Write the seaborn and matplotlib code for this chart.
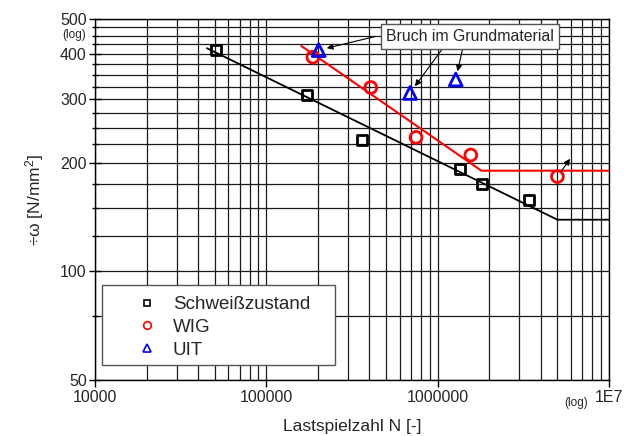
import matplotlib
matplotlib.use('Agg')
import matplotlib.pyplot as plt
import seaborn as sns
from matplotlib.ticker import FixedLocator, FixedFormatter, LogLocator, NullFormatter
from matplotlib.lines import Line2D
from matplotlib.patches import Rectangle

# ---------------- data ----------------
sw_N = [51000, 172000, 363000, 1357000, 1824000, 3417000]
sw_S = [410, 308, 231, 192, 174, 158]
wig_N = [187000, 407000, 748000, 1561000, 5000000]
wig_S = [392, 323, 235, 210, 183]
uit_N = [202000, 690000, 1275000]
uit_S = [410, 312, 340]

line_sw_N = [45000, 5000000, 10000000]
line_sw_S = [415, 139, 139]
line_wig_N = [160000, 1800000, 10000000]
line_wig_S = [421, 190, 190]

x_ticks = [1e4, 1e5, 1e6, 1e7]
x_labels = ['10000', '100000', '1000000', '1E7']
y_ticks = [50, 100, 200, 300, 400, 500]
y_labels = ['50', '100', '200', '300', '400', '500']
y_minor = [75, 125, 150, 175, 225, 250, 275, 325, 350, 375, 425, 450, 475]

labels = ['Schweißzustand', 'WIG', 'UIT']
box_text = 'Bruch im Grundmaterial'
box_pos = (1.546e6, 447)
arrow_tails = [(431000, 447), (1056000, 411), (1394000, 411)]
runout_tip = (5.93e6, 205)

# ---------------- style ----------------
sns.set_theme(style='white')
plt.rcParams['font.family'] = ['Liberation Sans', 'DejaVu Sans']
plt.rcParams['mathtext.fontset'] = 'custom'
plt.rcParams['mathtext.rm'] = 'Liberation Sans'
plt.rcParams['mathtext.it'] = 'Liberation Sans:italic'

fig = plt.figure(figsize=(6.39, 4.36), dpi=100)
ax = fig.add_axes([95 / 639, 1 - 380 / 436, 514 / 639, 361 / 436])
ax.set_xscale('log')
ax.set_yscale('log')

# lines
sns.lineplot(x=line_sw_N, y=line_sw_S, color='black', lw=1.3, sort=False,
             estimator=None, ax=ax, zorder=3)
sns.lineplot(x=line_wig_N, y=line_wig_S, color='red', lw=1.5, sort=False,
             estimator=None, ax=ax, zorder=3)

# points
for N, S, m, c, s in [(sw_N, sw_S, 's', 'black', 52),
                      (wig_N, wig_S, 'o', 'red', 72),
                      (uit_N, uit_S, '^', 'blue', 85)]:
    sns.scatterplot(x=N, y=S, marker=m, s=s, ax=ax, zorder=4)
    coll = ax.collections[-1]
    coll.set_facecolor('none')
    coll.set_edgecolor(c)
    coll.set_linewidth(2)

ax.set_xlim(1e4, 1e7)
ax.set_ylim(50, 500)

# ticks
ax.xaxis.set_major_locator(FixedLocator(x_ticks))
ax.xaxis.set_major_formatter(FixedFormatter(x_labels))
ax.xaxis.set_minor_locator(LogLocator(base=10, subs=range(2, 10)))
ax.xaxis.set_minor_formatter(NullFormatter())
ax.yaxis.set_major_locator(FixedLocator(y_ticks))
ax.yaxis.set_major_formatter(FixedFormatter(y_labels))
ax.yaxis.set_minor_locator(FixedLocator(y_minor))
ax.yaxis.set_minor_formatter(NullFormatter())

ax.tick_params(axis='x', which='major', direction='out', length=5, width=1,
               color='black', labelsize=11.5, pad=2, bottom=True)
ax.tick_params(axis='x', which='minor', length=0)
ax.tick_params(axis='y', which='major', direction='inout', length=8, width=1,
               color='black', labelsize=11.5, pad=2, left=True)
ax.tick_params(axis='y', which='minor', direction='inout', length=5, width=1,
               color='black', left=True)

ax.grid(True, which='both', color='#1a1a1a', lw=0.9)
ax.set_axisbelow(True)
for sp in ax.spines.values():
    sp.set_color('black')
    sp.set_linewidth(1)

ax.set_xlabel('Lastspielzahl N [-]', fontsize=12.5, labelpad=10)
ax.set_ylabel(r'÷ω [N/mm$^2$]', fontsize=12.5, labelpad=10)

ax.text(-0.041, 0.956, '(log)', transform=ax.transAxes, ha='center',
        va='center', fontsize=8.5)
ax.text(0.936, -0.064, '(log)', transform=ax.transAxes, ha='center',
        va='center', fontsize=8.5)

# annotation box + arrows
ax.text(box_pos[0], box_pos[1], box_text, ha='center', va='center',
        fontsize=11.4, zorder=6,
        bbox=dict(boxstyle='square,pad=0.3', fc='white', ec='#555555', lw=1))
for (tN, tS), N, S in zip(arrow_tails, uit_N, uit_S):
    ax.annotate('', xy=(N, S), xytext=(tN, tS),
                arrowprops=dict(arrowstyle='-|>', color='black', lw=0.8,
                                mutation_scale=9, shrinkA=0, shrinkB=6),
                zorder=5)
ax.annotate('', xy=runout_tip, xytext=(wig_N[-1], wig_S[-1]),
            arrowprops=dict(arrowstyle='-|>', color='black', lw=0.8,
                            mutation_scale=9, shrinkA=5, shrinkB=0),
            zorder=5)

# legend
ax.add_patch(Rectangle((0.0136, 0.0416), 0.4533, 0.2216, transform=ax.transAxes,
                       fc='white', ec='#555555', lw=1, zorder=5))
handles = [
    Line2D([], [], marker='s', ls='', mfc='none', mec='black', ms=5, mew=1.2),
    Line2D([], [], marker='o', ls='', mfc='none', mec='red', ms=5.5, mew=1.2),
    Line2D([], [], marker='^', ls='', mfc='none', mec='blue', ms=6, mew=1.2),
]
leg = ax.legend(handles, labels, loc='upper left',
                bbox_to_anchor=(0.0823, 0.2327), frameon=False, fontsize=13.5,
                handlelength=1.0, handletextpad=0.9, borderpad=0,
                labelspacing=0.31, borderaxespad=0)
leg.set_zorder(6)

fig.savefig('out.png', dpi=100)
